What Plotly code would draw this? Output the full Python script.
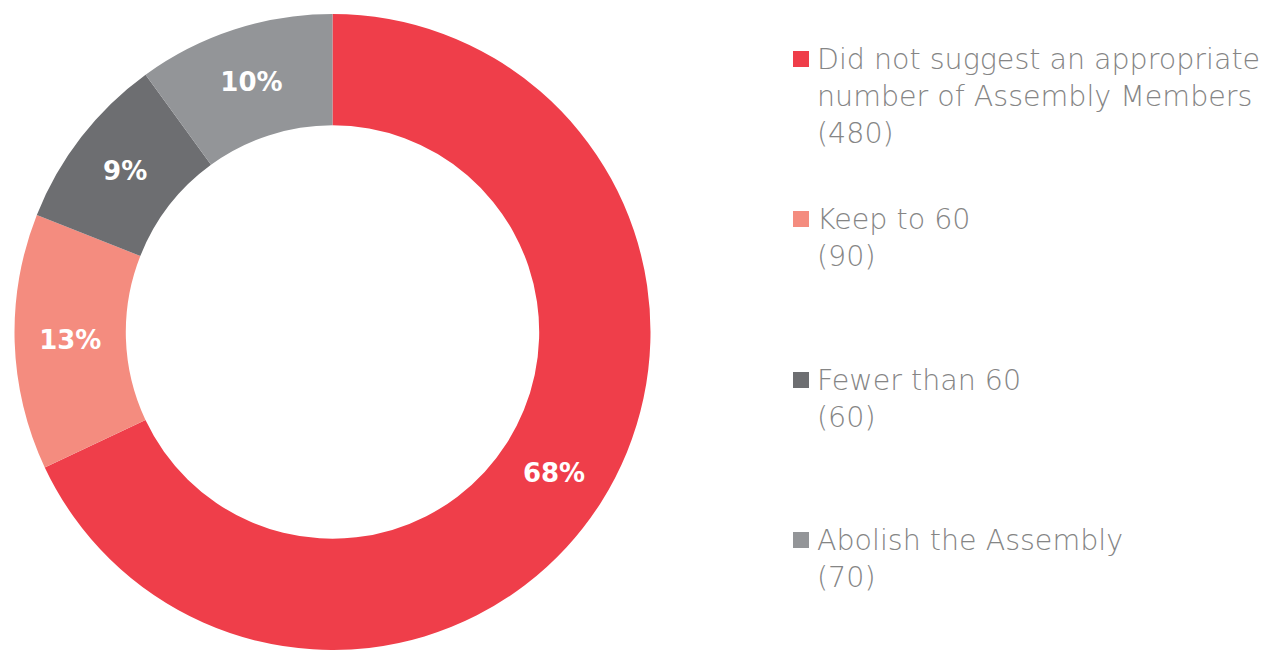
import plotly.graph_objects as go

# Survey responses on the number of Assembly Members
categories = [
    "Did not suggest an appropriate<br>number of Assembly Members",
    "Keep to 60",
    "Fewer than 60",
    "Abolish the Assembly",
]
counts = [480, 90, 60, 70]
shares = [68, 13, 9, 10]
share_labels = ["68%", "13%", "9%", "10%"]
colors = ["#EF3E4A", "#F48C7F", "#6D6E71", "#939598"]

W, H = 1273, 650
TOP = 14
TEXT_GREY = "#858585"
LEGEND_FONT = "DejaVu Sans"
LEGEND_SIZE = 28.5


def px_x(x):
    return x / W


def px_y(y):
    # pixel row from top of page -> paper fraction of the plot area
    return 1 - (y - TOP) / (H - TOP)


fig = go.Figure(
    go.Pie(
        labels=categories,
        values=shares,
        text=share_labels,
        textinfo="text",
        textposition="inside",
        insidetextorientation="horizontal",
        textfont=dict(family="DejaVu Sans", size=26, color="white", weight=700),
        marker=dict(colors=colors, line=dict(width=0)),
        hole=0.65,
        sort=False,
        direction="clockwise",
        rotation=0,
        domain=dict(x=[px_x(14), px_x(651)], y=[0, 1]),
        showlegend=False,
        hoverinfo="label+value",
    )
)

# Legend drawn as swatches and labels on the right
shapes = []
annotations = []
first_line_y = [59, 219, 380, 540]
for name, n, col, yc in zip(categories, counts, colors, first_line_y):
    shapes.append(
        dict(
            type="rect", xref="paper", yref="paper",
            x0=px_x(793), x1=px_x(809),
            y0=px_y(yc + 8), y1=px_y(yc - 8),
            fillcolor=col, line=dict(width=0),
        )
    )
    annotations.append(
        dict(
            text=f"{name}<br>({n})",
            xref="paper", yref="paper",
            x=px_x(815), y=px_y(yc - 18),
            xanchor="left", yanchor="top",
            align="left", showarrow=False,
            font=dict(family=LEGEND_FONT, size=LEGEND_SIZE, color=TEXT_GREY, weight=300),
        )
    )

fig.update_layout(
    width=W, height=H,
    margin=dict(l=0, r=0, t=TOP, b=0),
    paper_bgcolor="white",
    plot_bgcolor="white",
    shapes=shapes,
    annotations=annotations,
)

fig.write_html("out.html")
